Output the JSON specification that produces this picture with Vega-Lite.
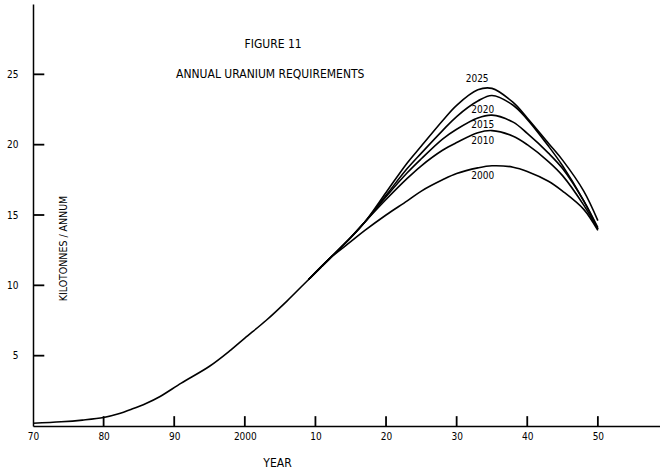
{
  "$schema": "https://vega.github.io/schema/vega-lite/v6.json",
  "width": 627,
  "height": 422,
  "autosize": {"type": "none"},
  "padding": {"left": 33, "top": 4, "right": 0, "bottom": 44},
  "background": "white",
  "config": {
    "view": {"stroke": null},
    "font": "DejaVu Sans Condensed",
    "axis": {"grid": false, "ticks": false, "domainColor": "black", "labelColor": "black", "titleColor": "black", "domainWidth": 1.5, "labelFont": "DejaVu Sans Condensed", "titleFont": "DejaVu Sans Condensed", "titleFontWeight": "normal"}
  },
  "layer": [
    {
      "data": {"values": [
        {"year": 1980, "lo": 0, "hi": 0.7}, {"year": 1990, "lo": 0, "hi": 0.7},
        {"year": 2000, "lo": 0, "hi": 0.7}, {"year": 2010, "lo": 0, "hi": 0.7},
        {"year": 2020, "lo": 0, "hi": 0.7}, {"year": 2030, "lo": 0, "hi": 0.7},
        {"year": 2040, "lo": 0, "hi": 0.7}, {"year": 2050, "lo": 0, "hi": 0.7}
      ]},
      "mark": {"type": "rule", "color": "black", "strokeWidth": 1.8},
      "encoding": {
        "x": {"field": "year", "type": "quantitative",
          "scale": {"domain": [1970, 2058.8], "nice": false, "zero": false},
          "axis": {"values": [1970, 1980, 1990, 2000, 2010, 2020, 2030, 2040, 2050],
            "labelExpr": "datum.value == 2000 ? '2000' : slice(toString(datum.value), 2)",
            "labelPadding": 5, "labelFontSize": 10, "labelFlush": false,
            "title": "YEAR", "titleFontSize": 12, "titleX": 244, "titleY": 36, "titleBaseline": "middle", "titleAnchor": "middle", "titleAlign": "center"}},
        "y": {"field": "lo", "type": "quantitative",
          "scale": {"domain": [0, 30], "nice": false},
          "axis": {"values": [5, 10, 15, 20, 25], "labelPadding": 15, "labelFontSize": 10,
            "title": "KILOTONNES / ANNUM", "titleFontSize": 10.5, "titleX": 30, "titleY": 244, "titleBaseline": "middle", "titleAlign": "center", "titleAngle": -90}},
        "y2": {"field": "hi"}
      }
    },
    {
      "data": {"values": [
        {"value": 5, "lo": 1970, "hi": 1971.6}, {"value": 10, "lo": 1970, "hi": 1971.6},
        {"value": 15, "lo": 1970, "hi": 1971.6}, {"value": 20, "lo": 1970, "hi": 1971.6},
        {"value": 25, "lo": 1970, "hi": 1971.6}
      ]},
      "mark": {"type": "rule", "color": "black", "strokeWidth": 1.8},
      "encoding": {
        "y": {"field": "value", "type": "quantitative"},
        "x": {"field": "lo", "type": "quantitative"},
        "x2": {"field": "hi"}
      }
    },
    {
      "data": {"values": [
        {"year": 1970, "value": 0.2, "series": "base"},
        {"year": 1974, "value": 0.3, "series": "base"},
        {"year": 1977, "value": 0.42, "series": "base"},
        {"year": 1980, "value": 0.6, "series": "base"},
        {"year": 1982, "value": 0.85, "series": "base"},
        {"year": 1984, "value": 1.2, "series": "base"},
        {"year": 1986, "value": 1.6, "series": "base"},
        {"year": 1988, "value": 2.1, "series": "base"},
        {"year": 1991, "value": 3.05, "series": "base"},
        {"year": 1995, "value": 4.25, "series": "base"},
        {"year": 1998, "value": 5.4, "series": "base"},
        {"year": 2000, "value": 6.25, "series": "base"},
        {"year": 2003, "value": 7.5, "series": "base"},
        {"year": 2006, "value": 8.9, "series": "base"},
        {"year": 2009, "value": 10.4, "series": "base"},
        {"year": 2012, "value": 11.9, "series": "base"},

        {"year": 2009, "value": 10.4, "series": "2000"},
        {"year": 2012, "value": 11.9, "series": "2000"},
        {"year": 2015, "value": 13.1, "series": "2000"},
        {"year": 2017, "value": 13.9, "series": "2000"},
        {"year": 2020, "value": 15.0, "series": "2000"},
        {"year": 2023, "value": 16.0, "series": "2000"},
        {"year": 2025, "value": 16.7, "series": "2000"},
        {"year": 2028, "value": 17.5, "series": "2000"},
        {"year": 2030, "value": 17.95, "series": "2000"},
        {"year": 2033, "value": 18.35, "series": "2000"},
        {"year": 2035, "value": 18.5, "series": "2000"},
        {"year": 2038, "value": 18.4, "series": "2000"},
        {"year": 2040, "value": 18.1, "series": "2000"},
        {"year": 2043, "value": 17.4, "series": "2000"},
        {"year": 2045, "value": 16.7, "series": "2000"},
        {"year": 2048, "value": 15.4, "series": "2000"},
        {"year": 2050, "value": 13.9, "series": "2000"},

        {"year": 2009, "value": 10.4, "series": "2010"},
        {"year": 2012, "value": 11.9, "series": "2010"},
        {"year": 2015, "value": 13.4, "series": "2010"},
        {"year": 2017, "value": 14.5, "series": "2010"},
        {"year": 2020, "value": 16.1, "series": "2010"},
        {"year": 2023, "value": 17.6, "series": "2010"},
        {"year": 2025, "value": 18.5, "series": "2010"},
        {"year": 2028, "value": 19.6, "series": "2010"},
        {"year": 2030, "value": 20.15, "series": "2010"},
        {"year": 2033, "value": 20.85, "series": "2010"},
        {"year": 2035, "value": 21.0, "series": "2010"},
        {"year": 2038, "value": 20.6, "series": "2010"},
        {"year": 2040, "value": 20.0, "series": "2010"},
        {"year": 2043, "value": 18.8, "series": "2010"},
        {"year": 2045, "value": 17.8, "series": "2010"},
        {"year": 2048, "value": 15.7, "series": "2010"},
        {"year": 2050, "value": 14.0, "series": "2010"},

        {"year": 2009, "value": 10.4, "series": "2015"},
        {"year": 2012, "value": 11.9, "series": "2015"},
        {"year": 2015, "value": 13.4, "series": "2015"},
        {"year": 2017, "value": 14.5, "series": "2015"},
        {"year": 2020, "value": 16.3, "series": "2015"},
        {"year": 2023, "value": 18.0, "series": "2015"},
        {"year": 2025, "value": 19.0, "series": "2015"},
        {"year": 2028, "value": 20.4, "series": "2015"},
        {"year": 2030, "value": 21.1, "series": "2015"},
        {"year": 2033, "value": 21.9, "series": "2015"},
        {"year": 2035, "value": 22.1, "series": "2015"},
        {"year": 2038, "value": 21.6, "series": "2015"},
        {"year": 2040, "value": 20.8, "series": "2015"},
        {"year": 2043, "value": 19.4, "series": "2015"},
        {"year": 2045, "value": 18.3, "series": "2015"},
        {"year": 2048, "value": 16.0, "series": "2015"},
        {"year": 2050, "value": 14.1, "series": "2015"},

        {"year": 2009, "value": 10.4, "series": "2020"},
        {"year": 2012, "value": 11.9, "series": "2020"},
        {"year": 2015, "value": 13.4, "series": "2020"},
        {"year": 2017, "value": 14.5, "series": "2020"},
        {"year": 2020, "value": 16.4, "series": "2020"},
        {"year": 2023, "value": 18.3, "series": "2020"},
        {"year": 2025, "value": 19.4, "series": "2020"},
        {"year": 2028, "value": 21.0, "series": "2020"},
        {"year": 2030, "value": 22.0, "series": "2020"},
        {"year": 2033, "value": 23.1, "series": "2020"},
        {"year": 2035, "value": 23.5, "series": "2020"},
        {"year": 2038, "value": 22.8, "series": "2020"},
        {"year": 2040, "value": 21.8, "series": "2020"},
        {"year": 2043, "value": 19.9, "series": "2020"},
        {"year": 2045, "value": 18.5, "series": "2020"},
        {"year": 2048, "value": 16.0, "series": "2020"},
        {"year": 2050, "value": 14.0, "series": "2020"},

        {"year": 2009, "value": 10.4, "series": "2025"},
        {"year": 2012, "value": 11.9, "series": "2025"},
        {"year": 2015, "value": 13.4, "series": "2025"},
        {"year": 2017, "value": 14.5, "series": "2025"},
        {"year": 2020, "value": 16.6, "series": "2025"},
        {"year": 2023, "value": 18.7, "series": "2025"},
        {"year": 2025, "value": 19.9, "series": "2025"},
        {"year": 2028, "value": 21.7, "series": "2025"},
        {"year": 2030, "value": 22.8, "series": "2025"},
        {"year": 2033, "value": 23.9, "series": "2025"},
        {"year": 2035, "value": 24.0, "series": "2025"},
        {"year": 2038, "value": 23.0, "series": "2025"},
        {"year": 2040, "value": 21.9, "series": "2025"},
        {"year": 2043, "value": 20.1, "series": "2025"},
        {"year": 2045, "value": 18.9, "series": "2025"},
        {"year": 2048, "value": 16.7, "series": "2025"},
        {"year": 2050, "value": 14.6, "series": "2025"}
      ]},
      "mark": {"type": "line", "interpolate": "catmull-rom", "color": "black", "strokeWidth": 1.6},
      "encoding": {
        "x": {"field": "year", "type": "quantitative"},
        "y": {"field": "value", "type": "quantitative"},
        "detail": {"field": "series", "type": "nominal"}
      }
    },
    {
      "data": {"values": [
        {"year": 2032.9, "value": 24.66, "label": "2025"},
        {"year": 2033.7, "value": 22.45, "label": "2020"},
        {"year": 2033.7, "value": 21.39, "label": "2015"},
        {"year": 2033.7, "value": 20.25, "label": "2010"},
        {"year": 2033.7, "value": 17.8, "label": "2000"}
      ]},
      "mark": {"type": "text", "fontSize": 10, "color": "black", "baseline": "middle", "align": "center"},
      "encoding": {
        "x": {"field": "year", "type": "quantitative"},
        "y": {"field": "value", "type": "quantitative"},
        "text": {"field": "label"}
      }
    },
    {
      "data": {"values": [
        {"year": 2004.0, "value": 27.15, "label": "FIGURE 11"},
        {"year": 2003.6, "value": 25.0, "label": "ANNUAL URANIUM REQUIREMENTS"}
      ]},
      "mark": {"type": "text", "fontSize": 12, "color": "black", "baseline": "middle", "align": "center"},
      "encoding": {
        "x": {"field": "year", "type": "quantitative"},
        "y": {"field": "value", "type": "quantitative"},
        "text": {"field": "label"}
      }
    }
  ]
}
